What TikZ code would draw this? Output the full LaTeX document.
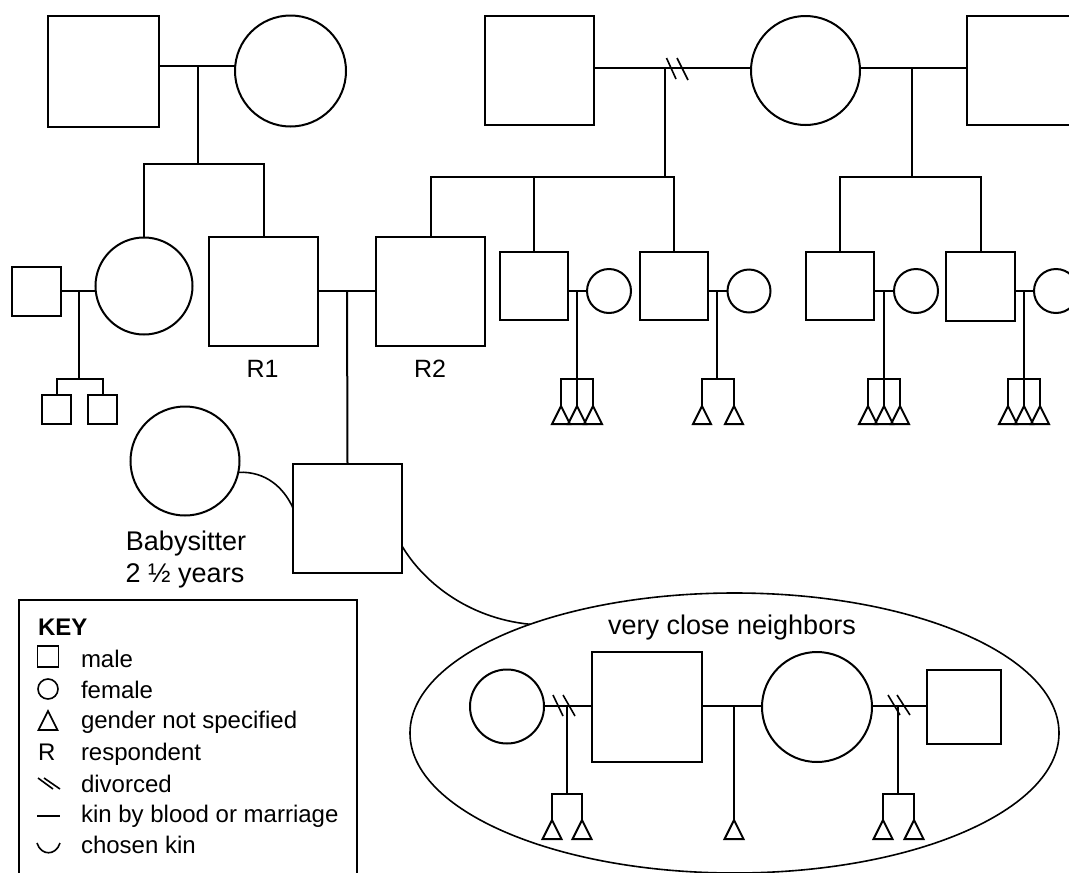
\documentclass[tikz,border=0pt]{standalone}
\usepackage{fontspec}
\setmainfont{Liberation Sans}
\usetikzlibrary{shapes.geometric}
\begin{document}
\begin{tikzpicture}[x=1pt,y=-1pt,
  line width=2pt,
  male/.style={draw, rectangle, inner sep=0pt, outer sep=0pt, minimum size=#1},
  female/.style={draw, circle, inner sep=0pt, outer sep=0pt, minimum size=#1},
  anon/.style={draw, isosceles triangle, shape border rotate=90,
    isosceles triangle stretches, inner sep=0pt, outer sep=0pt,
    minimum width=#1, minimum height=#1, anchor=apex},
  chosen/.style={line width=1.6pt},
  split/.style={line width=1.6pt},
  lbl/.style={font=\fontsize{27}{32}\selectfont, inner sep=0pt, anchor=base},
  rlbl/.style={font=\fontsize{25}{30}\selectfont, inner sep=0pt, anchor=base},
  keytxt/.style={font=\fontsize{24}{29}\selectfont, inner sep=0pt, anchor=base west},
]
\useasboundingbox (0,0) rectangle (1069,873);
\clip (0,0) rectangle (1069,873);

% ---------- grandparents, left side ----------
\node[male=111] (gf1) at (103.5,71) {};
\node[female=111] (gm1) at (290.5,71) {};
\coordinate (m1) at (198,66);
\coordinate (b1) at (198,164);
\draw (gf1.east |- m1) -- (gm1.west |- m1);
\draw (m1) -- (b1);

% ---------- grandparents, right side ----------
\node[male=109] (gf2) at (539.5,70.5) {};
\node[female=109] (gm2) at (805.5,70.5) {};
\node[male=109] (gf3) at (1021.5,70.5) {};
\coordinate (m2) at (664.5,68);
\coordinate (b2) at (664.5,177);
\coordinate (m3) at (912,68);
\coordinate (b3) at (912,177);
\draw (gf2.east |- m2) -- (gm2.west |- m2);
\draw[split] (666.5,58) -- (676,79);
\draw[split] (677,58) -- (688,80);
\draw (m2) -- (b2);
\draw (gm2.east |- m3) -- (gf3.west |- m3);
\draw (m3) -- (b3);

% ---------- second generation ----------
\node[female=97] (aunt) at (144,286) {};
\node[male=49] (uncle) at (36.5,291.5) {};
\node[male=109] (R1) at (263.5,291.5) {};
\node[male=109] (R2) at (430.5,291.5) {};
\node[rlbl] (r1lbl) at (262.5,377) {R1};
\node[rlbl] (r2lbl) at (430,377) {R2};

\draw (aunt.north) |- (b1) -| (R1.north);

\node[male=68] (s1) at (533.5,286) {};
\node[female=44] (w1) at (609,291) {};
\node[male=68] (s2) at (674,286) {};
\node[female=43] (w2) at (749,291) {};
\node[male=68] (s3) at (840,286) {};
\node[female=44] (w3) at (916,291) {};
\node[male=69] (s4) at (980.5,286) {};
\node[female=44] (w4) at (1056,291) {};

\draw (R2.north) |- (s2.north |- b2) -- (s2.north);
\draw (s1.north |- b2) -- (s1.north);
\draw (s3.north) |- (b3) -| (s4.north);

% uncle and aunt with their two sons
\node[male=29] (c1) at (56.5,409.5) {};
\node[male=29] (c2) at (102.5,409.5) {};
\coordinate (m9) at (79,291);
\coordinate (k9) at (79,379);
\draw (uncle.east |- m9) -- (aunt.west |- m9);
\draw (m9) -- (k9);
\draw (c1.north) |- (k9) -| (c2.north);

% R1 and R2 with their son
\node[male=109] (child) at (347.5,518) {};
\coordinate (m10) at (347,291);
\draw (R1.east |- m10) -- (R2.west |- m10);
\draw (m10) -- (child.north);

% cousins' households
\node[anon=18] (t41) at (561,406) {};
\node[anon=18] (t42) at (577,406) {};
\node[anon=18] (t43) at (593,406) {};
\coordinate (m4) at (577,291);
\coordinate (k4) at (577,379);
\draw (s1.east |- m4) -- (w1.west |- m4);
\draw (m4) -- (t42.apex);
\draw (t41.apex) |- (k4) -| (t43.apex);

\node[anon=18] (t51) at (702,406) {};
\node[anon=18] (t52) at (734,406) {};
\coordinate (m5) at (717,291);
\coordinate (k5) at (717,379);
\draw (s2.east |- m5) -- (w2.west |- m5);
\draw (m5) -- (k5);
\draw (t51.apex) |- (k5) -| (t52.apex);

\node[anon=18] (t31) at (868,406) {};
\node[anon=18] (t32) at (884,406) {};
\node[anon=18] (t33) at (900,406) {};
\coordinate (m11) at (884,291);
\coordinate (k11) at (884,379);
\draw (s3.east |- m11) -- (w3.west |- m11);
\draw (m11) -- (t32.apex);
\draw (t31.apex) |- (k11) -| (t33.apex);

\node[anon=18] (t21) at (1008,406) {};
\node[anon=18] (t22) at (1024,406) {};
\node[anon=18] (t23) at (1040,406) {};
\coordinate (m12) at (1024,291);
\coordinate (k12) at (1024,379);
\draw (s4.east |- m12) -- (w4.west |- m12);
\draw (m12) -- (t22.apex);
\draw (t21.apex) |- (k12) -| (t23.apex);

% ---------- babysitter ----------
\node[female=109] (bs) at (185,461) {};
\node[lbl] (bslbl) at (186,550) {Babysitter};
\node[lbl] (bsyrs) at (185,582) {2 ½ years};
\draw[chosen] (bs.-12) .. controls (266,471) and (284,488) .. ([yshift=10pt]child.west);

% ---------- neighbors ----------
\node[draw, ellipse, line width=1.6pt, inner sep=0pt, outer sep=0pt,
  minimum width=649, minimum height=280] (nb) at (734.5,733) {};
\node[lbl] (nblbl) at (732,634) {very close neighbors};
\draw[chosen] ([yshift=-28pt]child.east) .. controls (422,580) and (466,618) .. (nb.152);

\node[female=74] (n1) at (507,706.5) {};
\node[male=110] (n2) at (647,707) {};
\node[female=110] (n3) at (817,707) {};
\node[male=74] (n4) at (964,706.5) {};

\coordinate (m6) at (567,706);
\coordinate (k6) at (567,794);
\node[anon=19] (t61) at (552,820) {};
\node[anon=19] (t62) at (582,820) {};
\draw (n1.east |- m6) -- (n2.west |- m6);
\draw[split] (553,695) -- (563,716);
\draw[split] (563,695) -- (575,716);
\draw (m6) -- (k6);
\draw (t61.apex) |- (k6) -| (t62.apex);

\coordinate (m7) at (734,706);
\node[anon=19] (t7) at (734,820) {};
\draw (n2.east |- m7) -- (n3.west |- m7);
\draw (m7) -- (t7.apex);

\coordinate (m8) at (898,706);
\coordinate (k8) at (898,794);
\node[anon=19] (t81) at (883,820) {};
\node[anon=19] (t82) at (914,820) {};
\draw (n3.east |- m8) -- (n4.west |- m8);
\draw[split] (888,695) -- (900,715);
\draw[split] (897,695) -- (910,715);
\draw (m8) -- (k8);
\draw (t81.apex) |- (k8) -| (t82.apex);

% ---------- key ----------
\draw (19,600) rectangle (357,890);
\node[keytxt, font=\fontsize{24}{29}\selectfont\bfseries] (keyhd) at (37,635) {KEY};
\node[male=21, line width=1.6pt] (ksq) at (48,656.5) {};
\node[keytxt] (kt1) at (80,667) {male};
\node[female=20, line width=1.6pt] (kci) at (48,689) {};
\node[keytxt] (kt2) at (80,698) {female};
\node[anon=19, line width=1.6pt] (ktr) at (48,711) {};
\node[keytxt] (kt3) at (80,728) {gender not specified};
\node[keytxt] (kr) at (37,760) {R};
\node[keytxt] (kt4) at (80,760) {respondent};
\draw[split] (38,778) -- (53,789);
\draw[split] (44,778) -- (60,789);
\node[keytxt] (kt5) at (80,792) {divorced};
\draw[line width=1.6pt] (37,816) -- (60,816);
\node[keytxt] (kt6) at (80,822) {kin by blood or marriage};
\draw[chosen] (37,843) .. controls (41,856) and (56,856) .. (60,843);
\node[keytxt] (kt7) at (80,853) {chosen kin};
\end{tikzpicture}
\end{document}
